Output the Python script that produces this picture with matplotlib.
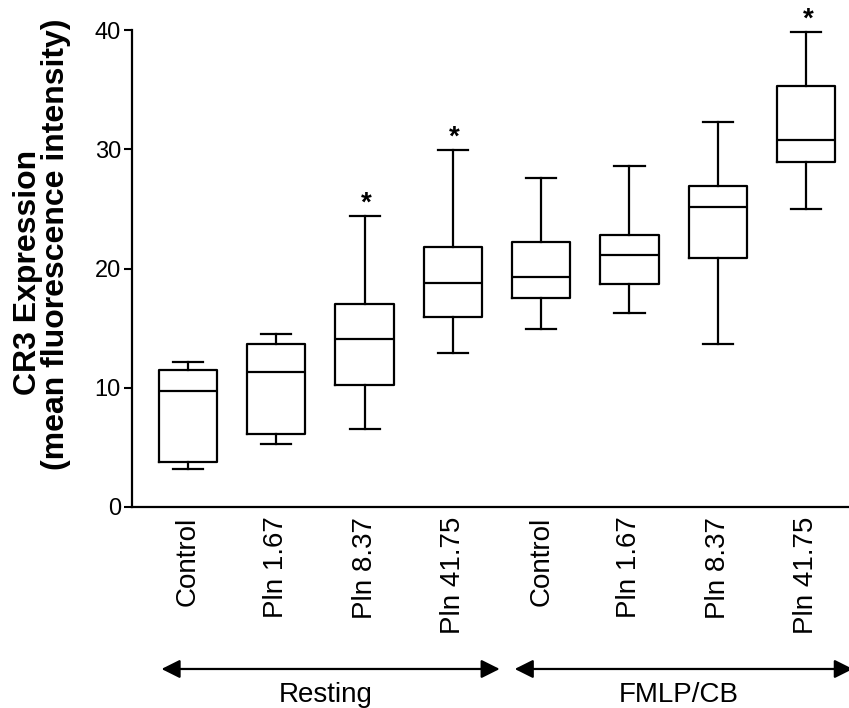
import numpy as np
import matplotlib
matplotlib.use('Agg')
import matplotlib.pyplot as plt

plt.rcParams['font.family'] = ['Liberation Sans', 'DejaVu Sans']

# Box statistics
labels = ['Control', 'Pln 1.67', 'Pln 8.37', 'Pln 41.75',
          'Control', 'Pln 1.67', 'Pln 8.37', 'Pln 41.75']
whislo = [3.2, 5.25, 6.5, 12.9, 14.9, 16.3, 13.7, 25.0]
q1 = [3.75, 6.15, 10.2, 15.9, 17.5, 18.7, 20.9, 28.9]
med = [9.7, 11.3, 14.1, 18.8, 19.3, 21.1, 25.2, 30.8]
q3 = [11.5, 13.7, 17.0, 21.8, 22.2, 22.8, 26.9, 35.3]
whishi = [12.2, 14.5, 24.4, 29.9, 27.6, 28.6, 32.3, 39.8]
signif = [False, False, True, True, False, False, False, True]
groups = ['Resting', 'FMLP/CB']
group_members = [[1, 2, 3, 4], [5, 6, 7, 8]]

positions = np.arange(1, len(labels) + 1)
stats = [dict(whislo=a, q1=b, med=c, q3=d, whishi=e, fliers=[])
         for a, b, c, d, e in zip(whislo, q1, med, q3, whishi)]

fig = plt.figure(figsize=(8.49, 7.08), dpi=100)
ax = fig.add_axes([0.1555, 0.2839, 0.8445, 0.6737])

lw = 1.6
ax.bxp(stats, positions=positions, widths=0.66, capwidths=0.34,
       showfliers=False,
       boxprops=dict(color='black', linewidth=lw),
       medianprops=dict(color='black', linewidth=lw),
       whiskerprops=dict(color='black', linewidth=lw),
       capprops=dict(color='black', linewidth=lw))

# significance stars
for p, top, s in zip(positions, whishi, signif):
    if s:
        ax.text(p + 0.02, top + 0.45, '*', ha='center', va='baseline',
                fontsize=20, fontweight='bold', clip_on=False)

ax.set_xlim(0.366, 8.486)
ax.set_ylim(0, 40)
ax.set_yticks([0, 10, 20, 30, 40])
ax.set_xticks(positions)
ax.set_xticklabels(labels, rotation=90, fontsize=20)
ax.tick_params(axis='x', length=0, pad=7)
ax.tick_params(axis='y', length=6, width=1.5, labelsize=17, pad=2)

for side in ['top', 'right']:
    ax.spines[side].set_visible(False)
for side in ['left', 'bottom']:
    ax.spines[side].set_linewidth(1.6)

# y label as two lines
fig.text(0.033, 0.615, 'CR3 Expression', rotation=90, ha='center', va='center',
         fontsize=23, fontweight='bold')
fig.text(0.066, 0.655, '(mean fluorescence intensity)', rotation=90, ha='center',
         va='center', fontsize=23, fontweight='bold')

# group arrows and labels
trans = ax.get_xaxis_transform()
arrow_y = -0.3396
for name, members in zip(groups, group_members):
    x0 = members[0] - 0.30
    x1 = members[-1] + 0.53
    ax.annotate('', xy=(x1, arrow_y), xytext=(x0, arrow_y), xycoords=trans,
                textcoords=trans, annotation_clip=False,
                arrowprops=dict(arrowstyle='<|-|>', color='black', lw=1.6,
                                mutation_scale=28, shrinkA=0, shrinkB=0))
    ax.text(np.mean(members) + 0.06, -0.394, name, transform=trans,
            ha='center', va='center', fontsize=20)

fig.savefig('out.png', dpi=100)
